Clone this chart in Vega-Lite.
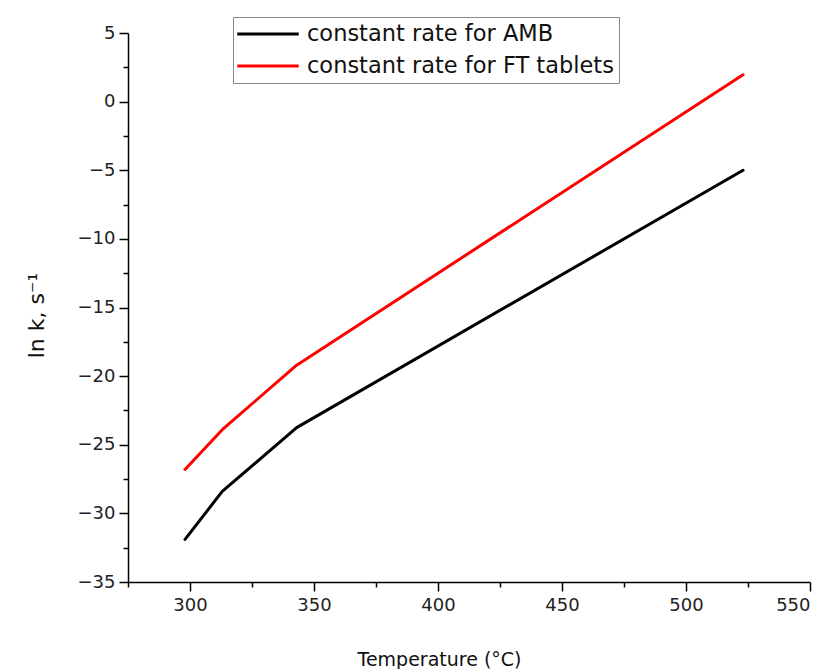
{
  "$schema": "https://vega.github.io/schema/vega-lite/v6.json",
  "width": 682,
  "height": 549,
  "autosize": {"type": "none"},
  "padding": {"left": 128, "top": 33, "right": 20, "bottom": 87},
  "background": "white",
  "config": {
    "view": {"stroke": null},
    "font": "DejaVu Sans",
    "axis": {
      "domainColor": "black",
      "domainWidth": 1.5,
      "tickColor": "black",
      "tickWidth": 1.5,
      "grid": false,
      "labelFont": "DejaVu Sans",
      "labelFontSize": 18,
      "labelColor": "#222",
      "titleFont": "DejaVu Sans",
      "titleFontWeight": "normal",
      "titleColor": "#111"
    }
  },
  "data": {
    "values": [
      {"series": "constant rate for AMB", "temp": 298, "lnk": -31.9},
      {"series": "constant rate for AMB", "temp": 313, "lnk": -28.4},
      {"series": "constant rate for AMB", "temp": 343, "lnk": -23.75},
      {"series": "constant rate for AMB", "temp": 523, "lnk": -5.0},
      {"series": "constant rate for FT tablets", "temp": 298, "lnk": -26.8},
      {"series": "constant rate for FT tablets", "temp": 313, "lnk": -23.9},
      {"series": "constant rate for FT tablets", "temp": 343, "lnk": -19.2},
      {"series": "constant rate for FT tablets", "temp": 523, "lnk": 1.95}
    ]
  },
  "mark": {"type": "line", "strokeWidth": 3, "strokeCap": "round", "strokeJoin": "round"},
  "encoding": {
    "x": {
      "field": "temp",
      "type": "quantitative",
      "scale": {"domain": [275, 550], "nice": false, "zero": false},
      "axis": {
        "title": "Temperature (°C)",
        "titleFontSize": 19,
        "titleX": 311,
        "titleY": 83,
        "titleBaseline": "alphabetic",
        "values": [275, 300, 325, 350, 375, 400, 425, 450, 475, 500, 525, 550],
        "labelExpr": "datum.value % 50 === 0 ? datum.label : ''",
        "tickSize": {"condition": {"test": "datum.value % 50 !== 0", "value": 5}, "value": 9},
        "labelPadding": 5
      }
    },
    "y": {
      "field": "lnk",
      "type": "quantitative",
      "scale": {"domain": [-35, 5], "nice": false, "zero": false},
      "axis": {
        "title": "ln k, s⁻¹",
        "titleFontSize": 22,
        "titleX": -85,
        "titleY": 282,
        "titleBaseline": "alphabetic",
        "values": [-35, -32.5, -30, -27.5, -25, -22.5, -20, -17.5, -15, -12.5, -10, -7.5, -5, -2.5, 0, 2.5, 5],
        "labelExpr": "datum.value % 5 === 0 ? datum.label : ''",
        "tickSize": {"condition": {"test": "datum.value % 5 !== 0", "value": 5}, "value": 9},
        "labelPadding": 4
      }
    },
    "color": {
      "field": "series",
      "type": "nominal",
      "scale": {
        "domain": ["constant rate for AMB", "constant rate for FT tablets"],
        "range": ["black", "#ff0000"]
      },
      "legend": {
        "title": null,
        "orient": "none",
        "legendX": 105,
        "legendY": -16,
        "strokeColor": "#888",
        "padding": 5,
        "symbolType": "M-3,0H3",
        "symbolSize": 420,
        "symbolOffset": 18,
        "symbolStrokeWidth": 3,
        "labelFont": "DejaVu Sans",
        "labelFontSize": 22.5,
        "labelColor": "#111",
        "labelLimit": 400,
        "labelOffset": 27,
        "rowPadding": 8
      }
    }
  }
}
